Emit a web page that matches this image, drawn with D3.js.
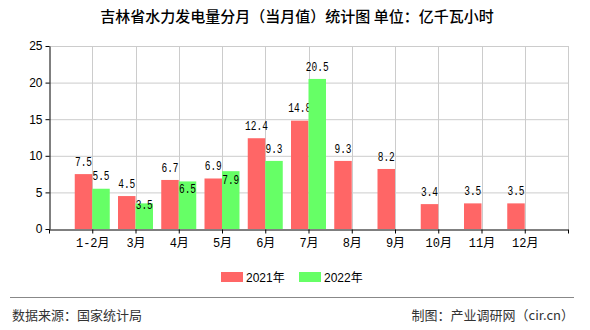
<!DOCTYPE html>
<html><head><meta charset="utf-8">
<script src="https://cdn.jsdelivr.net/npm/d3@7/dist/d3.min.js"></script>
<style>body{margin:0;background:#fff;}svg{display:block;}</style>
</head><body>
<svg id="c" width="590" height="330"></svg>
<script>
const categories = ["1-2月","3月","4月","5月","6月","7月","8月","9月","10月","11月","12月"];
const series2021 = [7.5,4.5,6.7,6.9,12.4,14.8,9.3,8.2,3.4,3.5,3.5];
const series2022 = [5.5,3.5,6.5,7.9,9.3,20.5,null,null,null,null,null];
const seriesNames = ["2021年","2022年"];
const colors = ["#FF6666","#66FF66"];
const yTicks = [0,5,10,15,20,25];

const svg = d3.select("#c");
const L=49, R=568, T=46, B=229;
const slots = d3.range(0, categories.length+2);
const xs = d3.scaleLinear().domain([0, categories.length+1]).range([L,R]);
const y = d3.scaleLinear().domain([0,25]).range([B,T]);
const bw = 17.5;
const font = "'Liberation Mono','DejaVu Sans Mono','Noto Sans CJK SC',monospace";

svg.append("text").attr("x",297).attr("y",22).attr("text-anchor","middle")
  .attr("font-family","'Noto Sans CJK SC',sans-serif").attr("font-size",15).attr("font-weight","500")
  .attr("fill","#000").text("吉林省水力发电量分月（当月值）统计图 单位：亿千瓦小时");

// grid
const g = svg.append("g");
g.selectAll(".hg").data(yTicks.slice(1)).join("line")
  .attr("x1",L).attr("x2",R).attr("y1",d=>y(d)+0.5).attr("y2",d=>y(d)+0.5)
  .attr("stroke","#cccccc");
g.selectAll(".vg").data(slots.slice(1)).join("line")
  .attr("x1",d=>Math.round(xs(d))+0.5).attr("x2",d=>Math.round(xs(d))+0.5).attr("y1",T).attr("y2",B)
  .attr("stroke","#cccccc");

// bars + labels
categories.forEach((c,i)=>{
  const cx = xs(i+1);
  const vals = [series2021[i], series2022[i]];
  let redLabelY = null;
  vals.forEach((v,k)=>{
    if(v==null) return;
    const x0 = k===0 ? cx-bw : cx;
    svg.append("rect").attr("x",x0).attr("y",y(v)).attr("width",bw).attr("height",B-y(v))
      .attr("fill",colors[k]);
    let ly = y(v) - 12.5;
    if(k===0) redLabelY = ly;
    else if(redLabelY!=null && Math.abs(ly-redLabelY) < 13) {
      ly = Math.min(redLabelY + 21, y(v) + 9);
    }
    const s = v.toFixed(1);
    svg.append("text").attr("x",x0+bw/2).attr("y",ly).attr("dy","0.35em").attr("text-anchor","middle")
      .attr("font-family",font).attr("font-size",12).attr("fill","#000")
      .attr("textLength", s.length*5.7).attr("lengthAdjust","spacingAndGlyphs").text(s);
  });
});

// axes
const ya = svg.append("g").attr("transform",`translate(${L+0.5},0)`)
  .call(d3.axisLeft(y).tickValues(yTicks).tickSize(4).tickSizeOuter(0));
ya.select(".domain").attr("stroke","#000");
ya.selectAll("line").attr("stroke","#000");
ya.selectAll("text").attr("font-family","'Liberation Sans',sans-serif").attr("font-size",12).attr("fill","#000");

const xa = svg.append("g").attr("transform",`translate(0,${B+0.5})`)
  .call(d3.axisBottom(xs).tickValues(slots).tickSize(4).tickSizeOuter(0).tickFormat(d=>categories[d-1]||""));
xa.select(".domain").attr("stroke","#000");
xa.selectAll("line").attr("stroke","#000");
xa.selectAll("text").attr("font-family",font).attr("font-size",12).attr("fill","#000").attr("dy","0.9em");

// legend
const lg = svg.append("g");
[0,1].forEach(k=>{
  const lx = 221 + k*78;
  lg.append("rect").attr("x",lx).attr("y",272).attr("width",22).attr("height",10).attr("fill",colors[k]);
  lg.append("text").attr("x",lx+25).attr("y",282).attr("font-family","'Liberation Sans','Noto Sans CJK SC',sans-serif")
    .attr("font-size",12).attr("fill","#000").text(seriesNames[k]);
});

// footer
svg.append("line").attr("x1",10).attr("x2",574).attr("y1",297.5).attr("y2",297.5).attr("stroke","#888").attr("stroke-width",1);
svg.append("text").attr("x",12).attr("y",320).attr("font-family","'Noto Sans CJK SC',sans-serif").attr("font-size",13)
  .attr("fill","#333").text("数据来源：国家统计局");
svg.append("text").attr("x",574).attr("y",320).attr("text-anchor","end").attr("font-family","'Noto Sans CJK SC',sans-serif").attr("font-size",13)
  .attr("fill","#333").text("制图：产业调研网（cir.cn）");
</script>
</body></html>
